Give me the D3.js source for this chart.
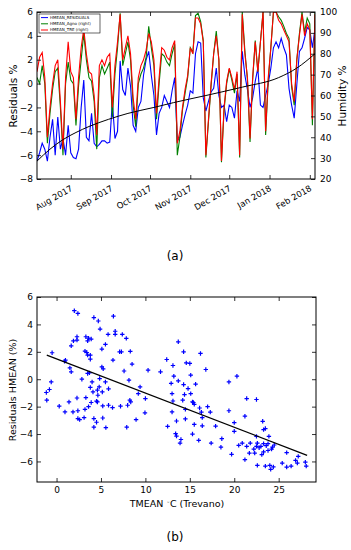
<!DOCTYPE html>
<html>
<head>
<meta charset="utf-8">
<script src="https://cdn.jsdelivr.net/npm/d3@7"></script>
<style>
body{margin:0;background:#fff}
svg{display:block}
text{font-family:"DejaVu Sans",sans-serif}
</style>
</head>
<body>
<svg id="chart" width="351" height="550"></svg>
<script>
// ---- panel (a): daily series, every 2nd day from 6 Jul 2017 ----
const startDate = new Date(2017, 6, 6);
const endDate = new Date(2018, 1, 5);
const dayOffsets = d3.range(0, 215, 2);

const residuals = [-6.5,-5.8,-5.0,-5.5,-6.5,-4.5,-3.0,-6.0,-2.8,-5.5,
  -4.6,-6.0,-3.5,-5.8,-6.2,-6.3,-5.5,-2.0,0.3,-4.5,
  -4.8,-2.5,-5.0,-5.3,-5.1,-4.8,-4.8,-5.0,-4.9,-1.5,
  -4.6,-4.0,1.9,-0.5,-1.0,1.3,-0.2,-3.5,-4.0,-2.0,
  -1.5,0.7,2.0,2.7,0.7,-1.0,-4.3,-2.5,-2.0,-1.0,
  -1.5,-2.0,-0.6,0.5,-4.8,-4.5,-3.5,-2.6,-1.8,-0.6,
  -0.8,2.5,3.5,3.4,-1.2,-2.3,-1.5,-0.7,-0.4,1.3,
  -1.0,-2.0,-1.8,-3.2,-1.8,-2.0,-2.9,-0.6,-1.5,2.7,
  0.7,-0.5,-2.0,-1.2,0.2,1.3,-1.8,-2.0,-1.0,0.0,
  1.3,3.0,3.5,3.0,3.8,3.0,2.4,-0.4,-1.8,-2.9,
  -0.1,2.7,3.0,3.8,4.7,4.5,3.0,4.6];

const humAgno = [68.6,65.7,74.3,65.7,37.1,51.4,62.9,71.4,73.1,54.3,
  31.4,65.7,76.0,67.4,65.7,45.7,64.6,77.1,89.7,77.1,
  68.6,66.9,57.1,34.3,68.6,74.3,70.3,73.1,76.0,49.7,
  70.3,82.9,99.4,74.3,80.0,85.7,77.1,55.4,45.1,65.7,
  70.3,73.1,78.3,93.1,82.9,74.3,48.6,65.7,80.0,78.9,
  76.0,74.3,80.0,84.6,31.4,40.0,53.1,61.1,68.6,82.9,
  80.6,98.3,99.4,95.4,86.3,30.3,47.4,64.6,80.0,90.9,
  77.1,28.0,53.1,65.7,72.6,67.4,61.1,70.3,30.3,100,
  81.7,67.4,37.7,67.4,86.3,71.4,85.7,100,41.1,66.9,
  82.9,100,100,97.7,96.0,93.1,89.7,87.4,64.0,55.4,
  77.1,89.7,100,90.3,97.1,94.3,45.7,100];

const humTre = [71.4,78.3,80.6,68.6,40.0,54.3,65.7,74.3,77.1,57.1,
  34.3,68.6,85.7,71.4,68.6,48.6,68.6,82.9,92.0,80.0,
  71.4,70.3,60.0,41.1,74.3,77.1,74.3,78.3,80.0,54.3,
  74.3,85.7,98.9,77.1,82.9,88.6,80.0,58.9,48.6,68.6,
  74.3,77.1,81.7,89.7,85.7,77.1,51.4,68.6,82.9,81.7,
  78.3,77.1,82.9,86.3,37.1,42.9,54.3,62.9,69.7,82.9,
  80.0,97.1,97.1,94.3,85.7,31.4,48.6,65.7,80.0,88.6,
  77.1,28.6,54.3,66.9,73.1,68.6,62.9,71.4,31.4,98.9,
  80.0,68.6,39.4,68.6,85.7,71.4,85.7,100,42.9,68.6,
  82.9,100,100,96.0,94.3,91.4,88.6,85.7,65.7,57.1,
  77.1,88.6,98.9,88.6,94.3,91.4,48.6,98.9];

// smooth trend of the residuals
const trendDays = [0,10,20,30,40,55,70,90,105,130,158,186,200,214];
const trendVals = [-6.5,-5.5,-4.7,-4.1,-3.6,-3.0,-2.5,-2.0,-1.6,-1.0,-0.3,0.5,1.3,2.5];

const seriesNames = ["HMEAN_RESIDUALS", "HMEAN_Agno (right)", "HMEAN_TRE (right)"];
const seriesColors = ["#0000ff", "#008000", "#ff0000"];

// ---- panel (b): scatter of residuals vs mean temperature ----
const tmean = [2.0,2.4,4.2,4.7,6.4,4.9,6.6,6.6,7.4,7.85,5.8,2.3,2.3,1.9,1.65,3.3,3.6,3.9,3.5,5.5,
  5.1,3.2,3.4,3.5,3.8,3.8,1.0,0.9,-0.5,6.35,7.1,7.3,8.3,8.5,7.6,10.3,11.7,12.4,13.1,1.5,
  1.65,3.5,3.7,5.1,5.25,-0.6,-0.8,-1.15,-1.1,2.85,4.0,4.85,5.5,5.85,4.8,3.8,4.1,4.6,5.15,4.65,
  4.5,4.6,3.9,3.3,2.3,1.4,0.3,0.95,1.85,2.4,2.4,2.6,3.1,3.2,3.6,4.2,4.2,4.5,5.2,5.2,
  5.55,5.85,6.3,7.2,8.0,8.25,8.35,7.9,8.95,9.4,9.2,10.0,9.95,8.15,12.9,13.0,13.1,13.0,12.5,
  13.5,13.4,13.5,14.0,13.9,14.5,14.5,15.3,15.5,15.5,16.0,16.1,16.3,16.4,16.4,17.4,17.0,17.3,17.9,18.6,
  18.5,19.4,19.7,20.0,20.0,20.5,20.9,21.2,21.2,21.4,21.7,21.8,22.3,22.5,22.5,22.6,22.6,23.0,23.2,23.3,
  23.3,23.3,23.5,23.5,23.8,23.8,24.0,24.1,24.4,24.3,24.5,23.9,25.4,25.9,25.9,26.4,26.9,27.1,27.2,28.0,
  28.1,13.7,14.3,14.6,15.0,16.2,16.8,13.2,13.7,14.3,15.1,15.65,15.1,14.4,14.8,14.2,15.3,15.4,19.4,20.3,
  21.4,22.5,22.8,23.6,23.1,22.2,24.2];
const residHmean = [5.0,4.8,4.5,4.25,4.6,3.66,3.5,3.27,3.27,2.98,3.27,3.1,2.86,2.8,2.44,3.1,3.0,2.93,2.8,2.54,
  2.2,2.05,1.95,1.76,1.76,1.46,1.39,1.3,1.93,1.39,2.0,2.0,2.03,1.1,0.6,0.66,0.54,1.44,1.0,0.83,
  0.54,0.42,0.46,0.9,0.76,-0.2,-0.75,-0.97,-1.53,0.0,-0.2,0.05,-0.2,-0.7,-0.56,-0.6,-0.93,-0.8,-0.93,-1.17,
  -1.6,-1.66,-1.7,-1.34,-1.37,-1.66,-1.97,-2.39,-2.39,-2.3,-2.87,-2.95,-2.8,-2.2,-2.0,-2.87,-3.5,-3.14,-2.83,-1.95,
  -3.53,-1.9,-2.07,-1.97,-1.9,-1.53,-1.66,-3.5,-2.95,-0.56,-1.05,-1.41,-2.45,-0.07,-0.3,-1.05,-1.59,-2.39,-3.44,
  -3.05,-3.97,-4.15,-4.4,-4.66,-2.9,-2.2,-4.0,-3.3,-1.83,-4.46,-2.1,-2.4,-2.8,-3.4,-4.66,-2.0,-2.4,-3.42,-4.34,
  -4.96,-2.3,-5.48,-3.17,-3.8,-4.83,-4.66,-2.7,-5.87,-4.9,-5.39,-4.66,-5.39,-4.17,-4.9,-6.29,-4.66,-4.9,-3.07,-3.68,
  -4.7,-5.3,-6.34,-3.6,-4.7,-5.2,-6.29,-6.58,-6.4,-4.96,-4.8,-4.17,-6.12,-5.36,-6.41,-6.34,-5.92,-6.12,-5.63,-6.05,
  -6.34,2.73,2.0,1.19,1.15,1.88,0.71,0.22,-0.12,-0.39,0.3,-0.36,-1.05,-1.12,-0.68,-1.53,-1.66,-1.7,-0.2,0.22,
  -1.41,-1.48,-5.0,-4.85,-5.5,-5.1,-5.1];
const fitT = [-1.1, 28.2];
const fitR = [1.76, -5.56];

const svg = d3.select("#chart");

// ================= panel (a) =================
const x1 = d3.scaleTime().domain([startDate, endDate]).range([37, 315]);
const yL = d3.scaleLinear().domain([-8, 6]).range([179, 12]);
const yR = d3.scaleLinear().domain([20, 100]).range([179, 12]);
const dates = dayOffsets.map(d => d3.timeDay.offset(startDate, d));

svg.append("clipPath").attr("id", "clipA")
  .append("rect").attr("x", 37).attr("y", 12).attr("width", 278).attr("height", 167);

const pa = svg.append("g").attr("clip-path", "url(#clipA)");
const lineL = d3.line().x((d, i) => x1(dates[i])).y(d => yL(d));
const lineR = d3.line().x((d, i) => x1(dates[i])).y(d => yR(d));

pa.append("path").datum(residuals).attr("d", lineL)
  .attr("fill", "none").attr("stroke", seriesColors[0]).attr("stroke-width", 1.1);
pa.append("path").datum(humAgno).attr("d", lineR)
  .attr("fill", "none").attr("stroke", seriesColors[1]).attr("stroke-width", 1.1);
pa.append("path").datum(humTre).attr("d", lineR)
  .attr("fill", "none").attr("stroke", seriesColors[2]).attr("stroke-width", 1.1);

const trendLine = d3.line()
  .x((d, i) => x1(d3.timeDay.offset(startDate, trendDays[i])))
  .y(d => yL(d))
  .curve(d3.curveMonotoneX);
pa.append("path").datum(trendVals).attr("d", trendLine)
  .attr("fill", "none").attr("stroke", "#000").attr("stroke-width", 1);

// axes, ticks pointing inwards
const monthTicks = d3.timeMonth.range(d3.timeMonth.ceil(startDate), endDate);
svg.append("g").attr("transform", "translate(0,179)")
  .call(d3.axisBottom(x1).tickValues(monthTicks).tickSizeInner(-4).tickSizeOuter(0)
    .tickFormat(d3.timeFormat("%b %Y")))
  .call(g => g.selectAll("text")
    .attr("y", 0).attr("dy", null).attr("x", 0)
    .attr("transform", "translate(2,11) rotate(-30)")
    .attr("text-anchor", "end").attr("font-size", 8.5));
svg.append("g").attr("transform", "translate(0,12)")
  .call(d3.axisTop(x1).tickValues(monthTicks).tickSizeInner(-4).tickSizeOuter(0).tickFormat(""));
svg.append("g").attr("transform", "translate(37,0)")
  .call(d3.axisLeft(yL).tickValues(d3.range(-8, 7, 2)).tickSizeInner(-4).tickSizeOuter(0).tickPadding(4))
  .call(g => g.selectAll("text").attr("font-size", 9));
svg.append("g").attr("transform", "translate(315,0)")
  .call(d3.axisRight(yR).tickValues(d3.range(20, 101, 10)).tickSizeInner(-4).tickSizeOuter(0).tickPadding(5))
  .call(g => g.selectAll("text").attr("font-size", 9));
svg.selectAll(".domain").remove();
svg.selectAll(".tick line").attr("stroke", "#000").attr("stroke-width", 0.8);
svg.append("rect").attr("x", 37).attr("y", 12).attr("width", 278).attr("height", 167)
  .attr("fill", "none").attr("stroke", "#000").attr("stroke-width", 1);

svg.append("text").attr("transform", "translate(17,96) rotate(-90)")
  .attr("text-anchor", "middle").attr("font-size", 10.5).text("Residuals %");
svg.append("text").attr("transform", "translate(346,96) rotate(-90)")
  .attr("text-anchor", "middle").attr("font-size", 10.5).text("Humidity %");

// legend
const lg = svg.append("g").attr("transform", "translate(39,14)");
lg.append("rect").attr("width", 61).attr("height", 19)
  .attr("fill", "#fff").attr("stroke", "#000").attr("stroke-width", 0.6);
seriesNames.forEach((name, i) => {
  const yy = 3.6 + i * 6.2;
  lg.append("line").attr("x1", 2).attr("x2", 9).attr("y1", yy).attr("y2", yy)
    .attr("stroke", seriesColors[i]).attr("stroke-width", 1);
  lg.append("text").attr("x", 11).attr("y", yy + 1.4).attr("font-size", 4).text(name);
});

svg.append("text").attr("x", 175).attr("y", 260).attr("text-anchor", "middle")
  .attr("font-family", "Liberation Serif, DejaVu Serif, serif").attr("font-size", 12).text("(a)");

// ================= panel (b) =================
const x2 = d3.scaleLinear().domain([-2.2, 29.2]).range([37, 316]);
const y2 = d3.scaleLinear().domain([-7.5, 6]).range([482, 297]);

const pb = svg.append("g");
pb.selectAll("path.pt").data(tmean).enter().append("path")
  .attr("class", "pt")
  .attr("d", (d, i) => {
    const cx = x2(d), cy = y2(residHmean[i]), s = 2.2;
    return `M${cx - s},${cy}H${cx + s}M${cx},${cy - s}V${cy + s}`;
  })
  .attr("stroke", "#0000ff").attr("stroke-width", 1.2).attr("fill", "none");

pb.append("line")
  .attr("x1", x2(fitT[0])).attr("y1", y2(fitR[0]))
  .attr("x2", x2(fitT[1])).attr("y2", y2(fitR[1]))
  .attr("stroke", "#000").attr("stroke-width", 1.2);

const gb = svg.append("g");
gb.append("g").attr("transform", "translate(0,482)")
  .call(d3.axisBottom(x2).tickValues(d3.range(0, 26, 5)).tickSizeInner(-4).tickSizeOuter(0).tickPadding(5))
  .call(g => g.selectAll("text").attr("font-size", 9));
gb.append("g").attr("transform", "translate(0,297)")
  .call(d3.axisTop(x2).tickValues(d3.range(0, 26, 5)).tickSizeInner(-4).tickSizeOuter(0).tickFormat(""));
gb.append("g").attr("transform", "translate(37,0)")
  .call(d3.axisLeft(y2).tickValues(d3.range(-6, 7, 2)).tickSizeInner(-4).tickSizeOuter(0).tickPadding(4))
  .call(g => g.selectAll("text").attr("font-size", 9));
gb.append("g").attr("transform", "translate(316,0)")
  .call(d3.axisRight(y2).tickValues(d3.range(-6, 7, 2)).tickSizeInner(-4).tickSizeOuter(0).tickFormat(""));
gb.selectAll(".domain").remove();
gb.selectAll(".tick line").attr("stroke", "#000").attr("stroke-width", 0.8);
gb.append("rect").attr("x", 37).attr("y", 297).attr("width", 279).attr("height", 185)
  .attr("fill", "none").attr("stroke", "#000").attr("stroke-width", 1);

const xl = svg.append("text").attr("x", 177).attr("y", 507).attr("text-anchor", "middle").attr("font-size", 9.5);
xl.append("tspan").text("TMEAN  ");
xl.append("tspan").attr("font-size", 6).attr("dy", -3.5).text("\u25E6");
xl.append("tspan").attr("dy", 3.5).text("C (Trevano)");

svg.append("text").attr("transform", "translate(16,390) rotate(-90)")
  .attr("text-anchor", "middle").attr("font-size", 9.5).text("Residuals HMEAN (%)");

svg.append("text").attr("x", 175).attr("y", 541).attr("text-anchor", "middle")
  .attr("font-family", "Liberation Serif, DejaVu Serif, serif").attr("font-size", 12).text("(b)");
</script>
</body>
</html>
